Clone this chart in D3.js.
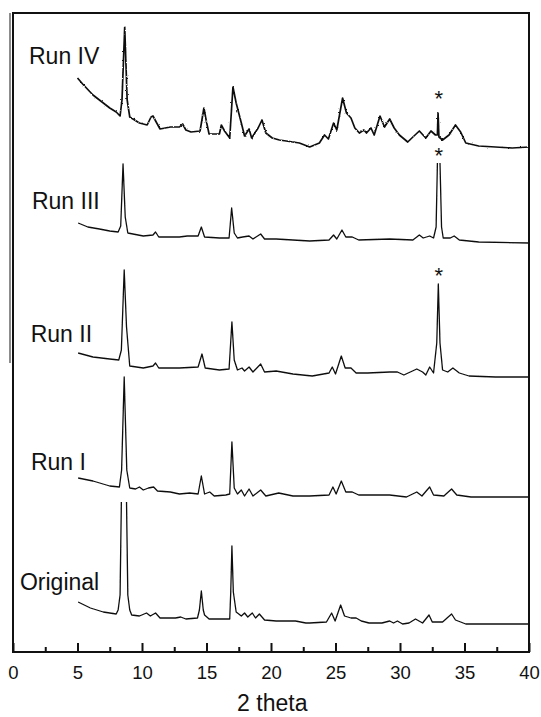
<!DOCTYPE html>
<html>
<head>
<meta charset="utf-8">
<script src="https://cdn.jsdelivr.net/npm/d3@7"></script>
<style>
  html, body { margin: 0; padding: 0; background: #fff; }
  svg { display: block; font-family: "Liberation Sans", Arial, sans-serif; }
</style>
</head>
<body>
<svg id="chart" width="541" height="717"></svg>
<script>
// ---------- data (2θ in degrees, stacked intensity in a.u.; null = off-scale, trace cut) ----------
const seriesNames = ["Original", "Run I", "Run II", "Run III", "Run IV"];

const originalX = [5.05,6.0,7.0,8.0,8.15,8.3,8.4,8.6,8.8,8.9,9.05,9.2,9.8,10.35,10.65,11.05,11.4,12.6,13.0,13.4,14.3,14.45,14.6,14.75,14.85,15.2,16.8,16.88,16.97,17.08,17.3,17.7,17.95,18.2,18.55,18.8,19.1,19.5,20.4,21.9,22.7,23.0,24.3,24.7,24.97,25.4,25.7,26.2,26.6,27.0,27.6,28.6,29.2,29.5,29.8,30.2,30.7,31.2,31.75,32.25,32.5,33.3,34.0,34.3,35.1,37.9,40.0];
const originalY = [50,44,40,38,42,57,150,null,150,57,42,37,36,39,36,39,34,34,35,33,34,42,61,42,37,33,33,60,106,60,40,36,39,35,39,34,38,32,31,31,29,29,30,39,31,47,36,34,34,31,29,29,31,29,31,28,29,33,29,37,30,30,38,32,28,28,28];

const run1X = [5.05,6.2,7.5,8.25,8.42,8.62,8.82,9.05,9.5,9.8,10.1,10.5,10.9,11.2,12.2,12.9,13.7,14.35,14.6,14.85,15.25,15.6,16.5,16.8,16.97,17.15,17.4,17.7,17.95,18.3,18.6,19.2,19.6,20.6,21.7,23.0,24.5,24.8,25.05,25.45,25.8,26.3,26.8,29.2,30.5,31.3,31.7,32.3,32.6,33.4,34.0,34.4,35.5,40.0];
const run1Y = [174,171,166,165,182,275,182,164,163,165,162,164,165,161,160,158,159,158,176,158,160,156,157,158,210,164,158,162,156,163,156,162,156,159,156,156,157,165,158,171,160,160,157,157,155,160,156,165,157,156,163,157,155,155];

const run2X = [5.05,6.2,7.5,8.2,8.4,8.62,8.8,9.05,10.1,10.85,11.05,11.3,12.9,14.35,14.65,14.9,16.0,16.75,16.97,17.15,17.4,17.75,17.95,18.3,18.6,19.2,19.5,20.4,21.7,23.2,24.5,24.75,25.0,25.45,25.75,26.2,26.6,27.5,29.2,29.8,30.3,31.3,31.75,32.0,32.3,32.6,32.85,32.97,33.1,33.3,33.7,34.1,34.6,35.35,37.4,40.0];
const run2Y = [299,295,293,292,302,382,325,286,284,286,289,284,284,285,298,284,282,283,330,292,282,284,281,285,280,288,280,281,278,276,279,285,278,296,284,284,279,279,280,280,277,283,280,277,285,279,309,368,309,282,280,284,279,276,275,275];

const run3X = [5.05,5.8,6.7,7.5,8.15,8.35,8.53,8.7,8.9,10.1,10.85,11.05,11.3,12.9,13.5,14.35,14.6,14.85,16.0,16.75,16.95,17.15,17.4,17.8,18.3,18.6,19.2,19.5,20.4,23.0,24.5,24.85,25.1,25.5,25.8,26.3,26.8,29.2,31.0,31.5,31.8,32.3,32.6,32.8,32.9,33.0,33.1,33.22,33.35,33.9,34.2,34.6,36.1,40.0];
const run3Y = [429,425,423,421,420,426,488,435,419,416,417,420,415,415,416,416,425,415,414,414,444,419,414,415,416,413,418,413,413,411,412,417,413,422,415,415,412,413,412,417,414,416,414,425,489,null,489,425,414,414,416,412,410,409];

const run4X = [5.0,5.4,6.2,6.8,7.5,8.0,8.3,8.45,8.66,8.85,9.05,9.8,10.4,10.7,10.85,11.1,11.4,12.2,12.9,13.15,13.4,13.8,14.5,14.8,15.0,15.2,16.0,16.15,16.4,16.8,17.05,17.3,17.7,17.95,18.3,18.5,19.0,19.3,19.6,20.1,20.65,21.7,22.2,23.0,23.75,24.15,24.45,24.85,25.1,25.55,25.85,26.2,26.5,26.85,27.2,27.4,27.75,28.0,28.45,28.8,29.2,29.55,29.95,30.6,31.0,31.5,32.0,32.4,32.75,32.9,32.95,33.02,33.3,33.8,34.3,34.7,35.1,36.1,37.4,38.7,40.0];
const run4Y = [574,568,557,551,544,540,536,552,625,552,535,529,527,535,536,530,523,525,525,528,522,520,521,544,530,518,518,527,521,514,565,549,529,516,523,514,524,532,519,514,512,510,509,505,509,517,513,529,522,554,539,534,524,519,522,519,524,517,536,525,533,524,517,510,515,521,514,521,517,517,539,515,512,517,527,520,509,506,505,504,505];

const seriesX = [originalX, run1X, run2X, run3X, run4X];
const seriesY = [originalY, run1Y, run2Y, run3Y, run4Y];

// asterisks mark the impurity reflection near 33° in Run II, III, IV
const asteriskX = [33.0, 33.0, 33.0];
const asteriskY = [369, 489, 546];

// label anchors (2θ, intensity), order: Run IV, Run III, Run II, Run I, Original
const labelText = ["Run IV", "Run III", "Run II", "Run I", "Original"];
const labelX = [1.24, 1.47, 1.37, 1.39, 0.54];
const labelY = [588, 443, 310, 182, 62];

const xTicks = [0, 5, 10, 15, 20, 25, 30, 35, 40];
const xMinorTicks = [2.5, 7.5, 12.5, 17.5, 22.5, 27.5, 32.5, 37.5];
const xTitle = "2 theta";

// ---------- drawing ----------
const svg = d3.select("#chart");
const mLeft = 13, mRight = 529, mTop = 13, mBottom = 652;

const x = d3.scaleLinear().domain([0, 40]).range([mLeft, mRight]);
const y = d3.scaleLinear().domain([0, 640]).range([mBottom, mBottom - 640]);

// roughness filters for noisy traces (style only)
const defs = svg.append("defs");
const f = defs.append("filter").attr("id", "rough").attr("x", "-5%").attr("y", "-20%").attr("width", "110%").attr("height", "140%");
f.append("feTurbulence").attr("type", "fractalNoise").attr("baseFrequency", "0.5").attr("numOctaves", 1).attr("seed", 3).attr("result", "n");
f.append("feDisplacementMap").attr("in", "SourceGraphic").attr("in2", "n").attr("scale", 2.2).attr("xChannelSelector", "R").attr("yChannelSelector", "G");
const f2 = defs.append("filter").attr("id", "rough2").attr("x", "-5%").attr("y", "-20%").attr("width", "110%").attr("height", "140%");
f2.append("feTurbulence").attr("type", "fractalNoise").attr("baseFrequency", "0.5").attr("numOctaves", 1).attr("seed", 7).attr("result", "n");
f2.append("feDisplacementMap").attr("in", "SourceGraphic").attr("in2", "n").attr("scale", 1.2).attr("xChannelSelector", "R").attr("yChannelSelector", "G");

// decorative outer line on the left
svg.append("line")
  .attr("x1", mLeft - 3).attr("x2", mLeft - 3)
  .attr("y1", mTop).attr("y2", y(289))
  .attr("stroke", "#666").attr("stroke-width", 1.5);

// traces
const line = d3.line()
  .defined(d => d[1] !== null)
  .x(d => x(d[0]))
  .y(d => y(d[1]));

seriesNames.forEach((name, i) => {
  const pts = seriesX[i].map((v, j) => [v, seriesY[i][j]]);
  svg.append("path")
    .datum(pts)
    .attr("fill", "none")
    .attr("stroke", "#111")
    .attr("stroke-width", i === 4 ? 1.7 : 1.3)
    .attr("stroke-linejoin", "round")
    .attr("filter", i === 4 ? "url(#rough)" : "url(#rough2)")
    .attr("d", line);
});

// asterisks
svg.selectAll("text.ast")
  .data(asteriskX.map((v, i) => [v, asteriskY[i]]))
  .join("text")
  .attr("class", "ast")
  .attr("x", d => x(d[0]))
  .attr("y", d => y(d[1]))
  .attr("text-anchor", "middle")
  .attr("font-size", 22)
  .attr("fill", "#111")
  .text("*");

// series labels
svg.selectAll("text.lab")
  .data(labelText.map((t, i) => ({ t, x: labelX[i], y: labelY[i] })))
  .join("text")
  .attr("class", "lab")
  .attr("x", d => x(d.x))
  .attr("y", d => y(d.y))
  .attr("font-size", 23)
  .attr("fill", "#111")
  .text(d => d.t);

// frame
svg.append("rect")
  .attr("x", mLeft).attr("y", mTop)
  .attr("width", mRight - mLeft).attr("height", mBottom - mTop)
  .attr("fill", "none").attr("stroke", "#111").attr("stroke-width", 2);

// x axis (ticks pointing inward)
const ax = svg.append("g").attr("transform", `translate(0,${mBottom})`)
  .call(d3.axisBottom(x).tickValues(xTicks).tickSize(-9).tickPadding(14).tickFormat(d3.format("d")));
ax.select(".domain").remove();
ax.selectAll(".tick line").attr("stroke", "#111").attr("stroke-width", 2);
ax.selectAll(".tick text").attr("font-size", 18.5).attr("fill", "#111")
  .attr("font-family", "'Liberation Sans', Arial, sans-serif");

const axm = svg.append("g").attr("transform", `translate(0,${mBottom})`)
  .call(d3.axisBottom(x).tickValues(xMinorTicks).tickSize(-5).tickFormat(""));
axm.select(".domain").remove();
axm.selectAll(".tick line").attr("stroke", "#111").attr("stroke-width", 2);

// axis title
svg.append("text")
  .attr("x", x(20.1)).attr("y", 711)
  .attr("text-anchor", "middle")
  .attr("font-size", 23)
  .attr("fill", "#111")
  .text(xTitle);
</script>
</body>
</html>
